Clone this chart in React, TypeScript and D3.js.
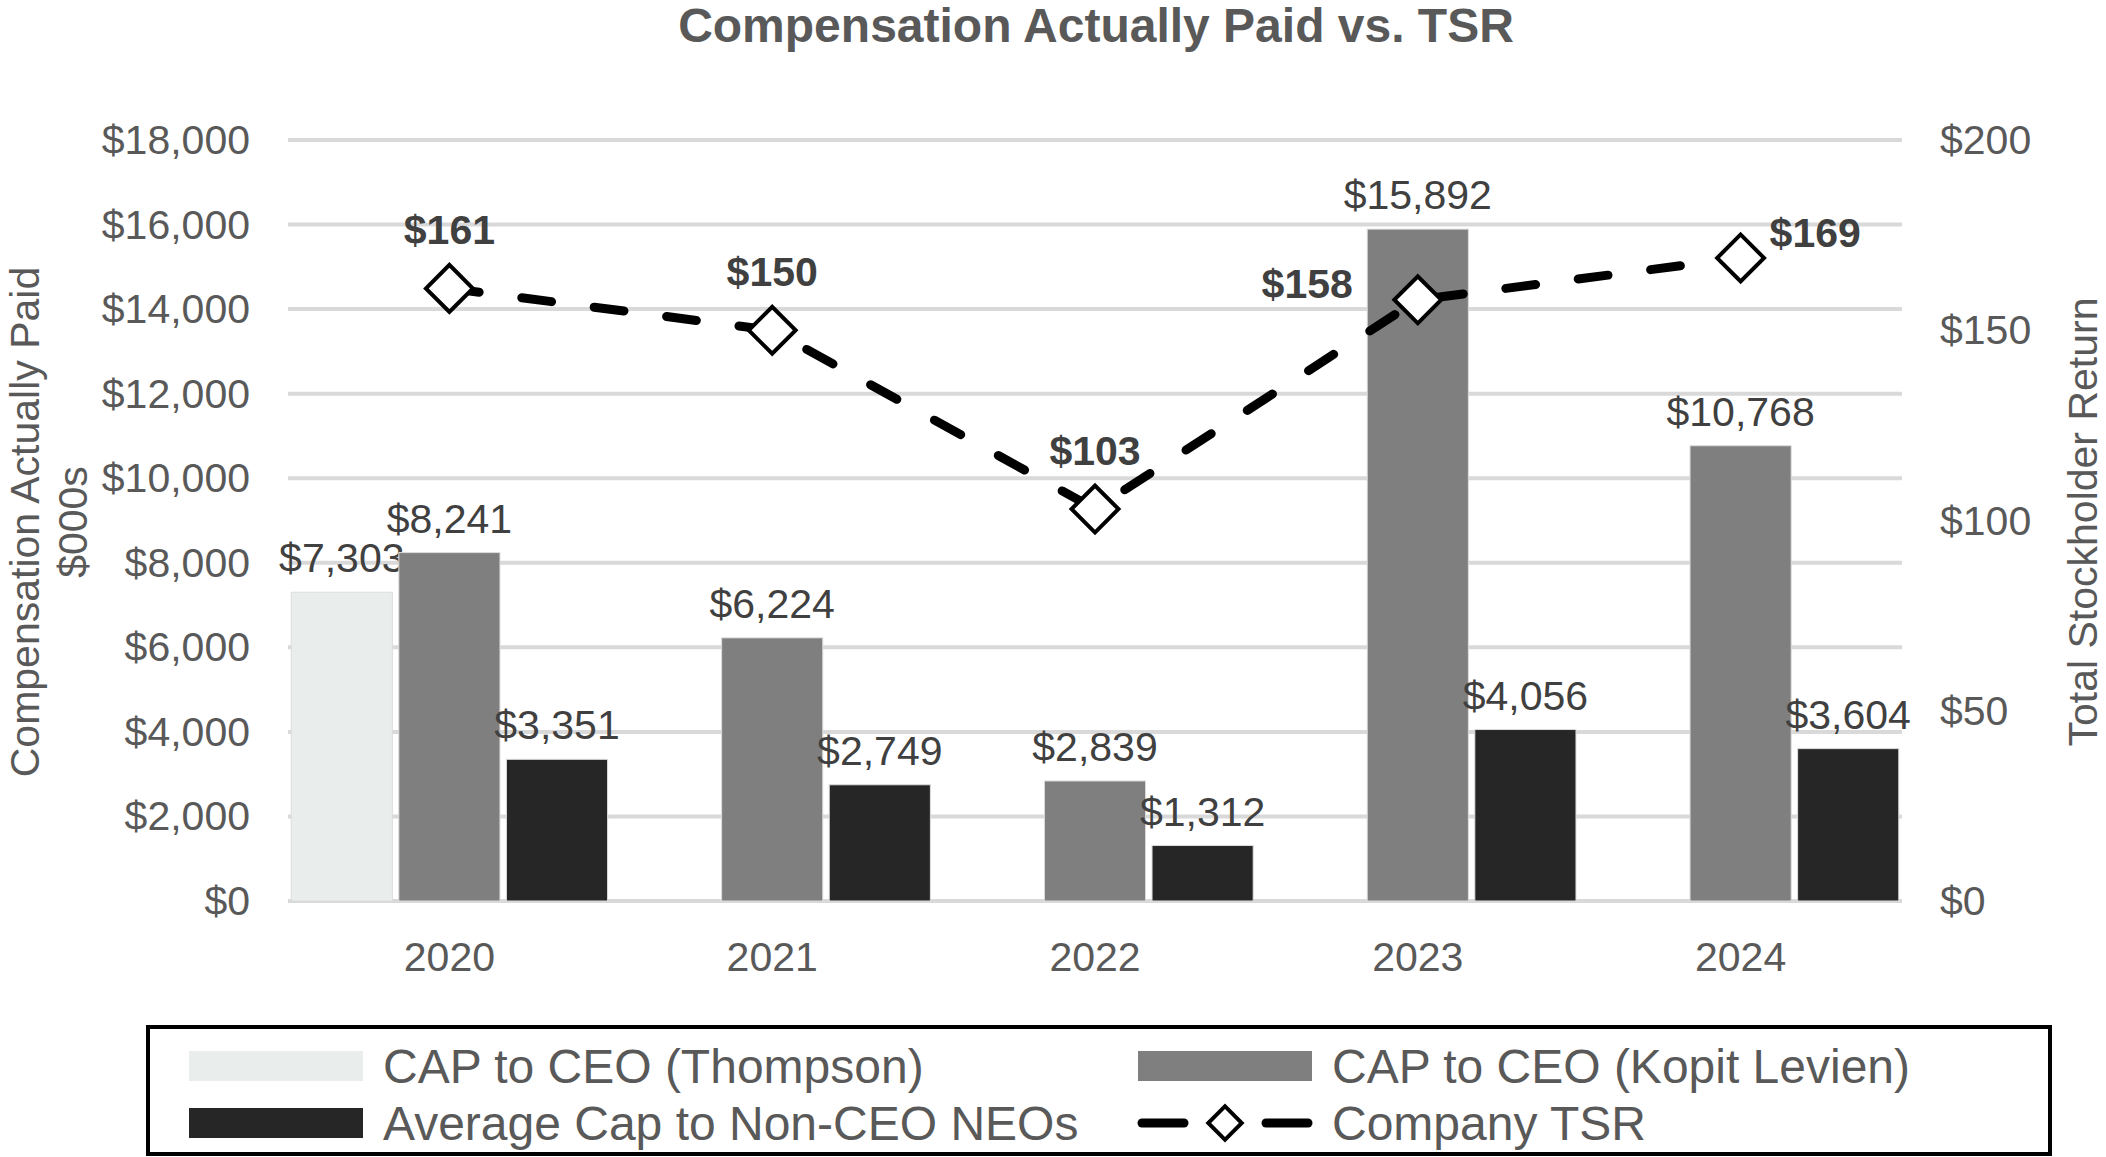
import React, { useEffect } from "react";
import { scaleBand, scaleLinear, line, symbol, symbolSquare, range, format } from "d3";

// chart values
const years = ["2020", "2021", "2022", "2023", "2024"];
const capThompson: (number | null)[] = [7303, null, null, null, null];
const capKopit: (number | null)[] = [8241, 6224, 2839, 15892, 10768];
const capNeo: (number | null)[] = [3351, 2749, 1312, 4056, 3604];
const tsr = [161, 150, 103, 158, 169];
const tsrLabelSide = ["above", "above", "above", "left", "right"];
const leftTicks = range(0, 18001, 2000);
const rightTicks = [0, 50, 100, 150, 200];

const W = 2106;
const H = 1157;
const FONT = "'Liberation Sans', Arial, Helvetica, sans-serif";
const TEXT = "#595959";
const LABEL = "#404040";
const FS = 41;

const series = [
  { key: "thompson", name: "CAP to CEO (Thompson)", values: capThompson, color: "#e9edeb" },
  { key: "kopit", name: "CAP to CEO (Kopit Levien)", values: capKopit, color: "#7f7f7f" },
  { key: "neo", name: "Average Cap to Non-CEO NEOs", values: capNeo, color: "#262626" },
];

const money = format("$,");

export default function App() {
  useEffect(() => {
    document.body.style.margin = "0";
  }, []);

  const plot = { left: 288, right: 1902, top: 140, bottom: 901 };

  const x0 = scaleBand().domain(years).range([plot.left, plot.right]).padding(0);
  const x1 = scaleBand()
    .domain(series.map((s) => s.key))
    .range([0, x0.bandwidth()])
    .paddingInner(0.06)
    .paddingOuter(0.03);
  const yL = scaleLinear().domain([0, 18000]).range([plot.bottom, plot.top]);
  const yR = scaleLinear().domain([0, 200]).range([plot.bottom, plot.top]);

  const cx = (i: number) => (x0(years[i]) ?? 0) + x0.bandwidth() / 2;
  const tsrLine = line<number>()
    .x((_, i) => cx(i))
    .y((d) => yR(d));

  const diamond = symbol().type(symbolSquare).size(1100)();
  const smallDiamond = symbol().type(symbolSquare).size(560)();

  return (
    <svg width={W} height={H} style={{ display: "block", background: "#fff" }} fontFamily={FONT}>
      {/* title */}
      <text x={1096} y={42} textAnchor="middle" fontSize={48} fontWeight="bold" fill={TEXT}>
        Compensation Actually Paid vs. TSR
      </text>

      {/* grid */}
      {leftTicks.map((t) => (
        <line
          key={t}
          x1={plot.left}
          x2={plot.right}
          y1={yL(t)}
          y2={yL(t)}
          stroke="#d9d9d9"
          strokeWidth={4}
        />
      ))}

      {/* left axis */}
      {leftTicks.map((t) => (
        <text key={t} x={250} y={yL(t) + 14} textAnchor="end" fontSize={FS} fill={TEXT}>
          {money(t)}
        </text>
      ))}
      {/* right axis */}
      {rightTicks.map((t) => (
        <text key={t} x={1940} y={yR(t) + 14} fontSize={FS} fill={TEXT}>
          {money(t)}
        </text>
      ))}

      {/* x labels */}
      {years.map((yr) => (
        <text
          key={yr}
          x={(x0(yr) ?? 0) + x0.bandwidth() / 2}
          y={971}
          textAnchor="middle"
          fontSize={FS}
          fill={TEXT}
        >
          {yr}
        </text>
      ))}

      {/* axis titles */}
      <g transform="translate(0,522) rotate(-90)" fontSize={FS} fill={TEXT} textAnchor="middle">
        <text x={0} y={39}>Compensation Actually Paid</text>
        <text x={0} y={87}>$000s</text>
      </g>
      <text
        transform="translate(2097,522) rotate(-90)"
        textAnchor="middle"
        fontSize={FS}
        fill={TEXT}
      >
        Total Stockholder Return
      </text>

      {/* bars */}
      {series.map((s) =>
        s.values.map((v, i) => {
          if (v == null) return null;
          const bx = (x0(years[i]) ?? 0) + (x1(s.key) ?? 0);
          return (
            <g key={s.key + i}>
              <rect
                x={bx}
                y={yL(v)}
                width={x1.bandwidth()}
                height={yL(0) - yL(v)}
                fill={s.color}
                stroke="#dcdcdc"
                strokeWidth={1}
              />
              <text
                x={bx + x1.bandwidth() / 2}
                y={yL(v) - 20}
                textAnchor="middle"
                fontSize={FS}
                fill={LABEL}
              >
                {money(v)}
              </text>
            </g>
          );
        })
      )}

      {/* TSR line */}
      <path
        d={tsrLine(tsr) ?? ""}
        fill="none"
        stroke="#000"
        strokeWidth={9}
        strokeDasharray="30 43"
        strokeLinecap="round"
      />
      {tsr.map((v, i) => (
        <path
          key={i}
          d={diamond}
          transform={`translate(${cx(i)},${yR(v)}) rotate(45)`}
          fill="#fff"
          stroke="#000"
          strokeWidth={4}
        />
      ))}
      {tsr.map((v, i) => {
        const side = tsrLabelSide[i];
        let lx = cx(i);
        let ly = yR(v) - 44;
        let anchor: "middle" | "end" | "start" = "middle";
        if (side === "left") {
          lx = cx(i) - 65;
          ly = yR(v) - 2;
          anchor = "end";
        } else if (side === "right") {
          lx = cx(i) + 29;
          ly = yR(v) - 11;
          anchor = "start";
        }
        return (
          <text
            key={i}
            x={lx}
            y={ly}
            textAnchor={anchor}
            fontSize={FS}
            fontWeight="bold"
            fill={LABEL}
          >
            {money(v)}
          </text>
        );
      })}

      {/* legend */}
      <rect x={148} y={1027} width={1902} height={127} fill="#fff" stroke="#000" strokeWidth={4} />
      {[
        { s: series[0], x: 189, y: 1066 },
        { s: series[1], x: 1138, y: 1066 },
        { s: series[2], x: 189, y: 1123 },
      ].map(({ s, x, y }) => (
        <g key={s.key}>
          <rect x={x} y={y - 15} width={174} height={30} fill={s.color} />
          <text x={x + 194} y={y + 17} fontSize={48} fill={TEXT}>
            {s.name}
          </text>
        </g>
      ))}
      <g>
        <line x1={1142} x2={1184} y1={1123} y2={1123} stroke="#000" strokeWidth={9} strokeLinecap="round" />
        <line x1={1266} x2={1308} y1={1123} y2={1123} stroke="#000" strokeWidth={9} strokeLinecap="round" />
        <path
          d={smallDiamond}
          transform="translate(1225,1123) rotate(45)"
          fill="#fff"
          stroke="#000"
          strokeWidth={4}
        />
        <text x={1332} y={1140} fontSize={48} fill={TEXT}>
          Company TSR
        </text>
      </g>
    </svg>
  );
}
